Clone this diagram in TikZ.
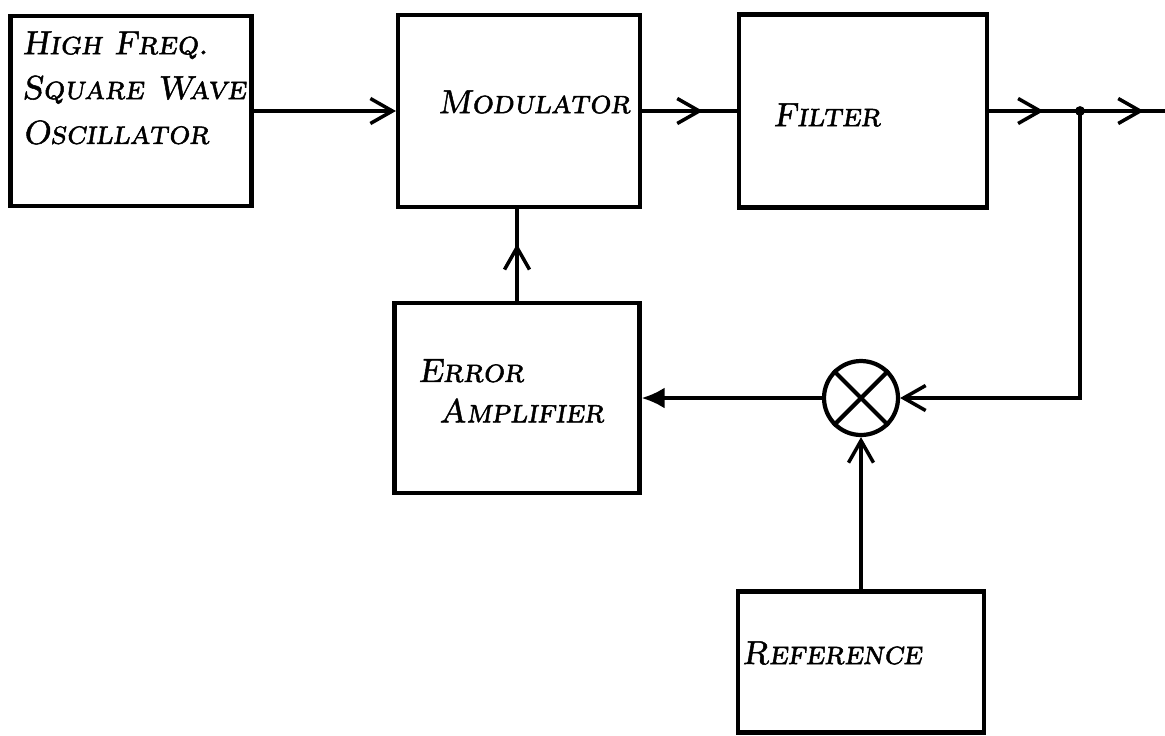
\documentclass[tikz,border=0pt]{standalone}
\usepackage{fontspec}
\usetikzlibrary{arrows.meta,decorations.markings}
\newfontfamily\handfont{lmromancaps10-oblique}[Extension=.otf,FakeBold=1.5]

\begin{document}
\begin{tikzpicture}[x=0.02cm,y=-0.02cm,
        block/.style={draw,line width=2.4pt,inner sep=0pt},
        wire/.style={line width=2pt},
        lbl/.style={font={\handfont\fontsize{19}{#1}\selectfont},anchor=west,align=left,inner sep=0pt},
        lbl/.default=26,
        tip/.style={-{Straight Barb[length=4.4mm,width=5mm]}},
        midtip/.style={postaction={decorate},decoration={markings,
            mark=at position #1 with {\arrow{Straight Barb[length=4.4mm,width=5mm]}}}}]
        \useasboundingbox (0,0) rectangle (1165,735);
        \node[block,minimum width=4.82cm,minimum height=3.8cm] (osc) at (131,111) {};
        \node[block,minimum width=4.84cm,minimum height=3.84cm] (mod) at (519,111) {};
        \node[block,minimum width=4.96cm,minimum height=3.86cm] (filt) at (863,111) {};
        \node[block,minimum width=4.9cm,minimum height=3.8cm] (err) at (517,398) {};
        \node[block,minimum width=4.92cm,minimum height=2.82cm] (ref) at (861,662) {};
        \node[draw,circle,line width=2.4pt,minimum size=1.48cm,inner sep=0pt] (sum) at (861,398) {};
        \draw[line width=2.4pt] (sum.north west) -- (sum.south east) (sum.north east) -- (sum.south west);
        \coordinate (jn) at (1080,111);
        \coordinate (out) at (1165,111);

        \node[lbl=25.5] (osctxt) at (22,88) {High Freq.\\Square Wave\\Oscillator};
        \node[lbl] (modtxt) at (438,102) {Modulator};
        \node[lbl] (filttxt) at (773,115) {Filter};
        \node[lbl=23] (errtxt) at (418,391) {Error\\\hspace*{12pt}Amplifier};
        \node[lbl] (reftxt) at (742,653) {Reference};

        \draw[wire,tip] (osc.east) -- (mod.west);
        \draw[wire,midtip=0.64] (mod.east) -- (filt.west);
        \draw[wire,midtip=0.6] (filt.east) -- (jn);
        \draw[wire,midtip=0.75] (jn) -- (out);
        \fill (jn) circle (2.8pt);
        \draw[wire,tip] (jn) |- (sum.east);
        \draw[wire,-{Latex[length=4.6mm,width=4.2mm]}] (sum.west) -- (err.east);
        \draw[wire,tip] (ref.north) -- (sum.south);
        \draw[wire,midtip=0.62] (err.north) -- (err.north |- mod.south);
\end{tikzpicture}
\end{document}
